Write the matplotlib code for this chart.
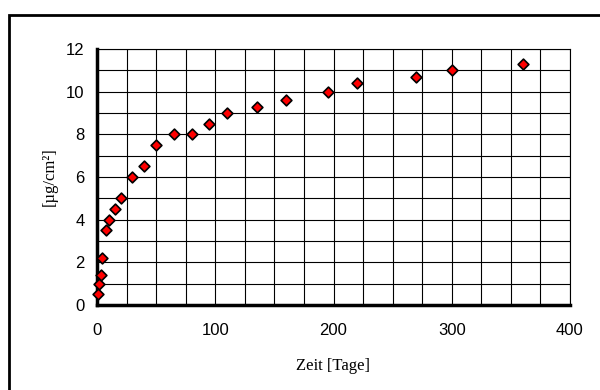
import numpy as np
import matplotlib.pyplot as plt
from matplotlib.patches import Rectangle
from matplotlib.ticker import MultipleLocator

# Messwerte
tage = [1, 2, 3, 4, 8, 10, 15, 20, 30, 40, 50, 65, 80, 95, 110, 135, 160, 195, 220, 270, 300, 360]
werte = [0.5, 1.0, 1.4, 2.2, 3.5, 4.0, 4.5, 5.0, 6.0, 6.5, 7.5, 8.0, 8.0, 8.5, 9.0, 9.3, 9.6, 10.0, 10.4, 10.7, 11.0, 11.3]

fig = plt.figure(figsize=(6, 3.9), dpi=100)
ax = fig.add_axes([97/600, 1-305/390, 473/600, 256/390])

# Rahmen um die Grafik
fig.patches.append(Rectangle((9/600, -0.1), 1.2, 1.1 - 15/390,
                             transform=fig.transFigure, fill=False,
                             edgecolor='black', linewidth=2))

ax.scatter(tage, werte, marker='D', s=30, facecolor='#ff0000',
           edgecolor='black', linewidth=1.2, zorder=3, clip_on=False)

ax.set_xlim(0, 400)
ax.set_ylim(0, 12)
ax.xaxis.set_major_locator(MultipleLocator(100))
ax.xaxis.set_minor_locator(MultipleLocator(25))
ax.yaxis.set_major_locator(MultipleLocator(2))
ax.yaxis.set_minor_locator(MultipleLocator(1))
ax.grid(which='both', color='black', linewidth=0.8)
ax.set_axisbelow(True)

for s in ['top', 'right']:
    ax.spines[s].set_linewidth(0.8)
for s in ['left', 'bottom']:
    ax.spines[s].set_linewidth(2.5)

ax.tick_params(which='both', length=0, labelsize=12)
ax.tick_params(axis='x', pad=13)
ax.tick_params(axis='y', pad=9)
for lab in ax.get_xticklabels() + ax.get_yticklabels():
    lab.set_fontfamily('Liberation Sans')

ax.set_xlabel('Zeit [Tage]', fontfamily='Liberation Serif', fontsize=12, labelpad=14)
ax.set_ylabel('[µg/cm²]', fontfamily='Liberation Serif', fontsize=12, labelpad=6)

fig.savefig('out.png', dpi=100)
